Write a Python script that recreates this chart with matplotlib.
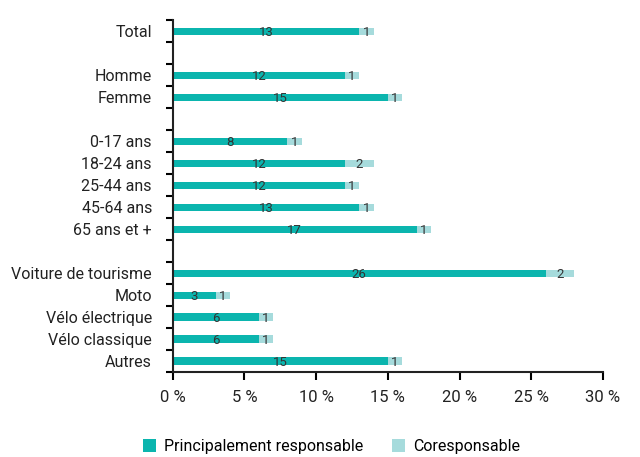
import matplotlib.pyplot as plt
import numpy as np
from matplotlib import font_manager

# Police etroite si disponible
noms = {f.name for f in font_manager.fontManager.ttflist}
police = "Liberation Sans Narrow" if "Liberation Sans Narrow" in noms else "Roboto"
plt.rcParams["font.family"] = [police, "DejaVu Sans"]

# Donnees (en %), "" = ligne vide entre les groupes
categories = ["Total", "", "Homme", "Femme", "", "0-17 ans", "18-24 ans", "25-44 ans",
              "45-64 ans", "65 ans et +", "", "Voiture de tourisme", "Moto",
              "Vélo électrique", "Vélo classique", "Autres"]
principal = [13, None, 12, 15, None, 8, 12, 12, 13, 17, None, 26, 3, 6, 6, 15]
coresp = [1, None, 1, 1, None, 1, 2, 1, 1, 1, None, 2, 1, 1, 1, 1]
xticks = [0, 5, 10, 15, 20, 25, 30]

couleur1 = "#0bb5ae"
couleur2 = "#a6dbdc"

fig = plt.figure(figsize=(6.4, 4.57), dpi=100)
ax = fig.add_axes([0.27, 0.186, 0.672, 0.77])

y = np.arange(len(categories))
idx = [i for i, c in enumerate(categories) if c]
p = np.array([principal[i] for i in idx])
c = np.array([coresp[i] for i in idx])
yy = y[idx]

b1 = ax.barh(yy, p, height=0.32, color=couleur1, label="Principalement responsable")
b2 = ax.barh(yy, c, left=p, height=0.32, color=couleur2, label="Coresponsable")

for yi, pi, ci in zip(yy, p, c):
    ax.text(pi / 2, yi + 0.08, str(pi), ha="center", va="center", fontsize=9.5, color="#333333")
    ax.text(pi + ci / 2, yi + 0.08, str(ci), ha="center", va="center", fontsize=9.5, color="#333333")

ax.set_ylim(len(categories) - 0.5, -0.5)
ax.set_xlim(0, 30)
ax.set_yticks(yy)
ax.set_yticklabels([categories[i] for i in idx], fontsize=11.5, color="#222222")
ax.tick_params(axis="y", which="major", length=0, pad=15)
ax.set_yticks(np.arange(-0.5, len(categories), 1), minor=True)
ax.tick_params(axis="y", which="minor", length=5, width=1.5)
ax.set_xticks(xticks)
ax.set_xticklabels([f"{v} %" for v in xticks], fontsize=12, color="#222222")
ax.tick_params(axis="x", length=6, width=1.5, pad=7)

for s in ["top", "right"]:
    ax.spines[s].set_visible(False)
for s in ["left", "bottom"]:
    ax.spines[s].set_linewidth(1.5)
    ax.spines[s].set_color("#222222")

fig.legend(handles=[b1, b2], loc="lower center", bbox_to_anchor=(0.518, -0.025), ncol=2,
           frameon=False, fontsize=11.5, handlelength=0.8, handleheight=0.8,
           columnspacing=1.8, handletextpad=0.5)

plt.savefig("out.png", dpi=100)
